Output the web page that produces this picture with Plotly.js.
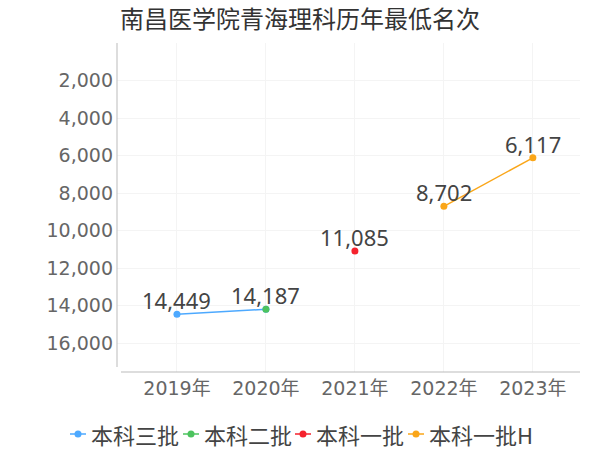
<!DOCTYPE html>
<html>
<head>
<meta charset="utf-8">
<script src="https://cdn.plot.ly/plotly-3.0.1.min.js"></script>
<style>html,body{margin:0;padding:0;background:#fff;}#chart{width:600px;height:450px;}</style>
</head>
<body>
<div id="chart"></div>
<script>
var categories = ['2019年', '2020年', '2021年', '2022年', '2023年'];
var seriesNames = ['本科三批', '本科二批', '本科一批', '本科一批H'];
var years3 = ['2019年', '2020年'];
var values3 = [14449, 14187];
var years2 = ['2020年'];
var values2 = [14187];
var years1 = ['2021年'];
var values1 = [11085];
var years1H = ['2022年', '2023年'];
var values1H = [8702, 6117];
var yTicks = [2000, 4000, 6000, 8000, 10000, 12000, 14000, 16000];
var colors = ['#4da9ff', '#4cc35e', '#f5222d', '#faa619'];

function fmt(v) { return v.toLocaleString('en-US'); }
var FONT = '"DejaVu Sans", "Noto Sans CJK SC", sans-serif';
var LABEL = '"Noto Sans", "Noto Sans CJK SC", sans-serif';
var CJK = '"Noto Sans CJK SC", sans-serif';

function trace(name, xs, ys, color) {
  return {
    type: 'scatter', mode: 'lines+markers', name: name,
    x: xs, y: ys,
    line: {color: color, width: 1.5},
    marker: {color: color, size: 7},
    cliponaxis: false,
    hoverinfo: 'none'
  };
}

var data = [
  trace(seriesNames[0], years3, values3, colors[0]),
  trace(seriesNames[1], years2, values2, colors[1]),
  trace(seriesNames[2], years1, values1, colors[2]),
  trace(seriesNames[3], years1H, values1H, colors[3])
];

// plot-area geometry (pixels)
var PL = 117, PW = 463, PB = 372, PH = 329;
function px2x(px) { return (px - PL) / PW; }
function px2y(py) { return (PB - py) / PH; }

var annotations = [];
// value labels (the 2020 point of 本科三批 is labelled by 本科二批)
function addLabels(xs, ys, count) {
  for (var i = 0; i < count; i++) {
    annotations.push({xref: 'x', yref: 'y', x: xs[i], y: ys[i], text: fmt(ys[i]),
      showarrow: false, xanchor: 'center', yanchor: 'bottom', yshift: -3,
      font: {size: 22, color: '#444', family: LABEL}});
  }
}
addLabels(years3, values3, 1);
addLabels(years2, values2, years2.length);
addLabels(years1, values1, years1.length);
addLabels(years1H, values1H, years1H.length);

// manual legend (positions are layout, not data)
var legendStarts = [70, 183, 295, 408];
var legendY = 434;
var shapes = [
  {type: 'line', xref: 'paper', yref: 'paper', x0: 0, x1: 0, y0: px2y(367), y1: 1, line: {color: '#bbb', width: 1}},
  {type: 'line', xref: 'paper', yref: 'paper', x0: px2x(121), x1: 1, y0: 0, y1: 0, line: {color: '#bbb', width: 1}}
];
seriesNames.forEach(function(name, i) {
  var sx = legendStarts[i];
  shapes.push({type: 'line', xref: 'paper', yref: 'paper',
    x0: px2x(sx), x1: px2x(sx + 16), y0: px2y(legendY), y1: px2y(legendY),
    line: {color: colors[i], width: 1.5}});
  shapes.push({type: 'circle', xref: 'paper', yref: 'paper',
    xsizemode: 'pixel', ysizemode: 'pixel',
    xanchor: px2x(sx + 8), yanchor: px2y(legendY),
    x0: -3.5, x1: 3.5, y0: -3.5, y1: 3.5,
    fillcolor: colors[i], line: {color: colors[i], width: 0}});
  annotations.push({xref: 'paper', yref: 'paper', x: px2x(sx + 19), y: px2y(legendY),
    xanchor: 'left', yanchor: 'middle', showarrow: false, text: name,
    font: {size: 22, color: '#444', family: CJK}});
});

var layout = {
  width: 600, height: 450,
  margin: {l: PL, r: 600 - PL - PW, t: PB - PH, b: 450 - PB},
  paper_bgcolor: '#fff', plot_bgcolor: '#fff',
  font: {family: FONT, color: '#666'},
  title: {
    text: '南昌医学院青海理科历年最低名次',
    font: {size: 24, color: '#333', family: CJK},
    x: 0.5, xref: 'container', xanchor: 'center',
    y: 1 - 20/450, yref: 'container', yanchor: 'middle'
  },
  xaxis: {
    type: 'category', categoryorder: 'array', categoryarray: categories,
    range: [-0.674, 4.53],
    showgrid: true, gridcolor: '#f4f4f4', gridwidth: 1,
    zeroline: false, showline: false,
    tickfont: {size: 19, color: '#666', family: FONT},
    ticks: '', ticklabelstandoff: 3
  },
  yaxis: {
    autorange: false, range: [17532, 0],
    tickvals: yTicks, ticktext: yTicks.map(fmt),
    showgrid: true, gridcolor: '#f4f4f4', gridwidth: 1,
    zeroline: false, showline: false,
    tickfont: {size: 19, color: '#666', family: FONT},
    ticks: '', ticklabelstandoff: 3
  },
  shapes: shapes,
  annotations: annotations,
  showlegend: false
};

Plotly.newPlot('chart', data, layout, {displayModeBar: false, staticPlot: true});
</script>
</body>
</html>
